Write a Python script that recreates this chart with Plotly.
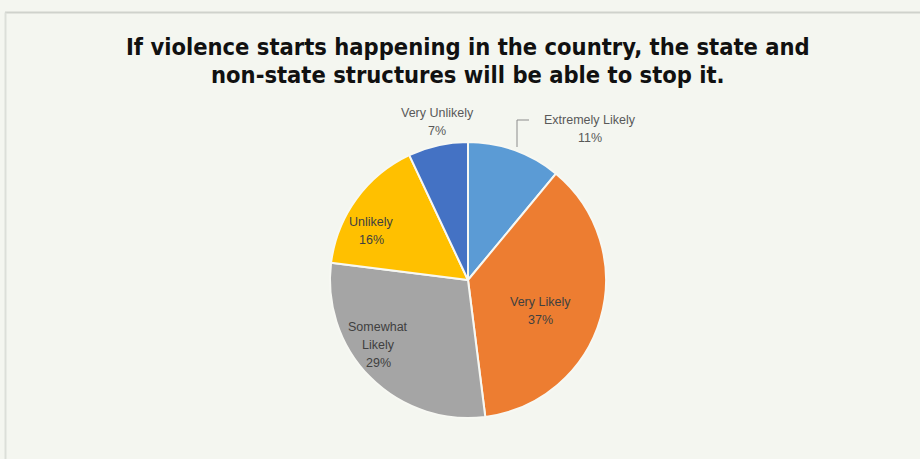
import plotly.graph_objects as go

# Survey responses
categories = ["Extremely Likely", "Very Likely", "Somewhat Likely", "Unlikely", "Very Unlikely"]
label_lines = [["Extremely Likely"], ["Very Likely"], ["Somewhat", "Likely"], ["Unlikely"], ["Very Unlikely"]]
shares = [11, 37, 29, 16, 7]
colors = ["#5b9bd5", "#ed7d31", "#a5a5a5", "#ffc000", "#4472c4"]

title_lines = ["If violence starts happening in the country, the state and",
               "non-state structures will be able to stop it."]

W, H = 920, 459
cx, cy, r = 468, 280, 138

fig = go.Figure()
fig.add_trace(go.Pie(
    labels=categories,
    values=shares,
    sort=False,
    direction="clockwise",
    rotation=0,
    marker=dict(colors=colors, line=dict(color="#f7f8f3", width=2)),
    textinfo="none",
    showlegend=False,
    hoverinfo="label+percent",
    domain=dict(x=[(cx - r) / W, (cx + r) / W], y=[(H - cy - r) / H, (H - cy + r) / H]),
))

# Data label placement (pixel centre of each label block) and colour
label_pos = [(590, 129), (540, 311), (378, 345), (371, 231), (437, 122)]
label_col = ["#595959", "#404040", "#404040", "#404040", "#595959"]
line_gap = 18

for i, (x, y) in enumerate(label_pos):
    lines = label_lines[i] + [f"{shares[i]}%"]
    y0 = y - line_gap * (len(lines) - 1) / 2
    for k, t in enumerate(lines):
        fig.add_annotation(
            x=x / W, y=1 - (y0 + k * line_gap) / H, xref="paper", yref="paper",
            text=t, showarrow=False, align="center",
            xanchor="center", yanchor="middle",
            font=dict(family="Liberation Sans, Arial, sans-serif", size=12.5, color=label_col[i]),
        )

# Leader line for "Extremely Likely"
fig.add_shape(type="path", xref="paper", yref="paper",
              path=f"M {529 / W} {1 - 120 / H} L {517 / W} {1 - 120 / H} L {517 / W} {1 - 147 / H}",
              line=dict(color="#8c8c8c", width=1))

# Panel border lines
fig.add_shape(type="line", xref="paper", yref="paper",
              x0=5 / W, x1=1, y0=1 - 12.5 / H, y1=1 - 12.5 / H,
              line=dict(color="#cfd2cc", width=2))
fig.add_shape(type="line", xref="paper", yref="paper",
              x0=5.5 / W, x1=5.5 / W, y0=0, y1=1 - 12.5 / H,
              line=dict(color="#dcdfd9", width=2))

# Two-line chart title
for k, (t, y) in enumerate(zip(title_lines, [47, 75])):
    fig.add_annotation(
        x=468 / W, y=1 - y / H, xref="paper", yref="paper",
        text=f"<b>{t}</b>", showarrow=False,
        xanchor="center", yanchor="middle",
        font=dict(family="DejaVu Sans Condensed, Liberation Sans, Arial, sans-serif",
                  size=23.5, color="#111111"),
    )

fig.update_layout(
    width=W, height=H,
    margin=dict(l=0, r=0, t=0, b=0),
    paper_bgcolor="#f4f6f0",
    plot_bgcolor="#f4f6f0",
)

fig.write_html("out.html")
